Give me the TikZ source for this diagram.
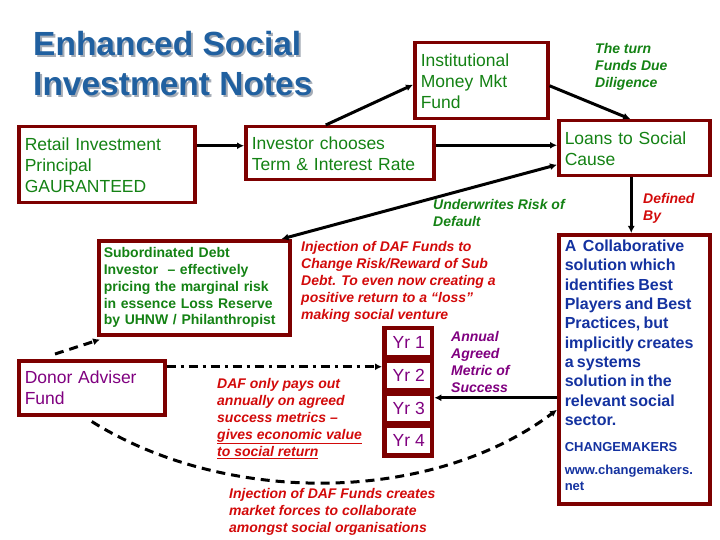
\documentclass[tikz,border=0pt]{standalone}
\usepackage{fontspec}
\setmainfont{Liberation Sans}
\usetikzlibrary{calc, arrows.meta, positioning}
\definecolor{boxred}{RGB}{125,0,0}
\definecolor{textgreen}{RGB}{20,130,20}
\definecolor{textred}{RGB}{210,10,10}
\definecolor{textpurple}{RGB}{128,0,128}
\definecolor{collabblue}{RGB}{20,50,160}
\definecolor{titleblue}{RGB}{32,96,160}
\definecolor{titleshade}{RGB}{165,172,182}
\newcommand\txtsize[2]{\fontsize{#1}{#2}\selectfont}
\newcommand\boxfont{\txtsize{17.5}{21}}
\newcommand\notefont{\txtsize{14}{17}\bfseries\itshape}
\tikzset{
  notebox/.style={draw=boxred, line width=3.5pt, fill=white, anchor=north west, align=left, inner xsep=6pt, inner ysep=0pt, font=\boxfont},
  yrbox/.style={fill=white, anchor=north west, minimum width=43pt, minimum height=25pt, inner sep=0pt, text=textpurple, font=\boxfont},
  note/.style={anchor=north west, inner sep=0pt, align=left, font=\notefont},
  conn/.style={line width=3pt, -{Latex[length=7pt,width=7pt]}},
  dashconn/.style={conn, dash pattern=on 9pt off 6pt},
  dotconn/.style={conn, dash pattern=on 9pt off 5pt on 3pt off 5pt}
}

\begin{document}
\begin{tikzpicture}[x=1pt, y=-1pt]
	\useasboundingbox (0,0) rectangle (720,540);
	% title
	\node[anchor=north west, inner sep=0pt, align=left, text=titleshade, font=\txtsize{33.5}{40}\bfseries] (titleshadow) at (35,33) {Enhanced Social\\Investment Notes};
	\node[anchor=north west, inner sep=0pt, align=left, text=titleblue, font=\txtsize{33.5}{40}\bfseries] (title) at (33,31) {Enhanced Social\\Investment Notes};
	% boxes
	\node[notebox, text width=164pt, minimum height=76pt, text=textgreen] (retail) at (17,125) {Retail Investment\\Principal\\GAURANTEED};
	\node[notebox, text width=176pt, minimum height=53pt, text=textgreen] (investor) at (244,125) {Investor chooses\\Term \& Interest Rate};
	\node[notebox, text width=121pt, minimum height=76pt, text=textgreen] (inst) at (413,41) {Institutional\\Money Mkt\\Fund};
	\node[notebox, text width=139pt, minimum height=55pt, text=textgreen] (loans) at (557,119) {Loans to Social\\Cause};
	\node[notebox, inner xsep=5pt, text width=181pt, minimum height=94pt, text=textgreen, font=\txtsize{14}{16.8}\bfseries] (subord) at (97,239) {Subordinated Debt\\Investor\ \ -- effectively\\pricing the marginal risk\\in essence Loss Reserve\\by UHNW / Philanthropist};
	\node[notebox, text width=134pt, minimum height=54pt, text=textpurple] (donor) at (17,359) {Donor Adviser\\Fund};
	\node[notebox, text width=139pt, minimum height=269pt, text=collabblue, font=\bfseries] (collab) at (557,233) {\txtsize{16}{19.3}A\ \ Collaborative\\solution which\\identifies Best\\Players and Best\\Practices, but\\implicitly creates\\a systems\\solution in the\\relevant social\\sector.\par\vspace{10pt}\txtsize{13}{16}CHANGEMAKERS\par\vspace{7pt}www.changemakers.\\net\par\vspace{8pt}};
	% year column
	\node[fill=boxred, anchor=north west, minimum width=52pt, minimum height=132pt, inner sep=0pt] (yrcol) at (382,326) {};
	\foreach \i/\y in {1/330,2/363,3/396,4/428}
		\node[yrbox] (yr\i) at (387,\y) {Yr \i};
	% notes
	\node[note, text=textgreen] (turn) at (595,43) {The turn\\Funds Due\\Diligence};
	\node[note, text=textgreen] (underwrite) at (433,199) {Underwrites Risk of\\Default};
	\node[note, text=textred] (definedby) at (643,193) {Defined\\By};
	\node[note, text=textred] (inject) at (301,241) {Injection of DAF Funds to\\Change Risk/Reward of Sub\\Debt. To even now creating a\\positive return to a “loss”\\making social venture};
	\node[note, text=textpurple] (annual) at (451,331) {Annual\\Agreed\\Metric of\\Success};
	\node[note, text=textred] (payout) at (217,378) {DAF only pays out\\annually on agreed\\success metrics --\\\underline{gives economic value}\\\underline{to social return}};
	\node[note, text=textred] (market) at (229,488) {Injection of DAF Funds creates\\market forces to collaborate\\amongst social organisations};
	% connectors
	\draw[conn] ([yshift=19pt]retail.east) -- ([yshift=7.5pt]investor.west);
	\draw[conn] ([xshift=-14pt]investor.north) -- ([yshift=-4pt]inst.west);
	\draw[conn] ([yshift=-5pt]inst.east) -- ([xshift=-4pt]loans.north);
	\draw[conn] ([yshift=8pt]investor.east) -- ([yshift=8pt]investor.east -| loans.west);
	\draw[conn, {Latex[length=7pt,width=7pt]}-{Latex[length=7pt,width=7pt]}] ([xshift=-10pt]subord.north east) -- ([yshift=-16.5pt]loans.west);
	\draw[conn] ([xshift=-3pt]loans.south) -- ([xshift=-3pt]loans.south |- collab.north);
	\draw[conn] ([yshift=-28.5pt]collab.west) -- ([yshift=-28.5pt]collab.west -| yrcol.east);
	\draw[dashconn] ([xshift=38pt,yshift=5pt]donor.north west) -- ([xshift=3pt,yshift=-3pt]subord.south west);
	\draw[dotconn] ([yshift=21pt]donor.east) -- ([yshift=21pt]donor.east -| yrcol.west);
	\draw[dashconn] ([yshift=-5pt]donor.south) .. controls (225,505) and (430,505) .. ([yshift=-40.5pt]collab.west);
\end{tikzpicture}
\end{document}
